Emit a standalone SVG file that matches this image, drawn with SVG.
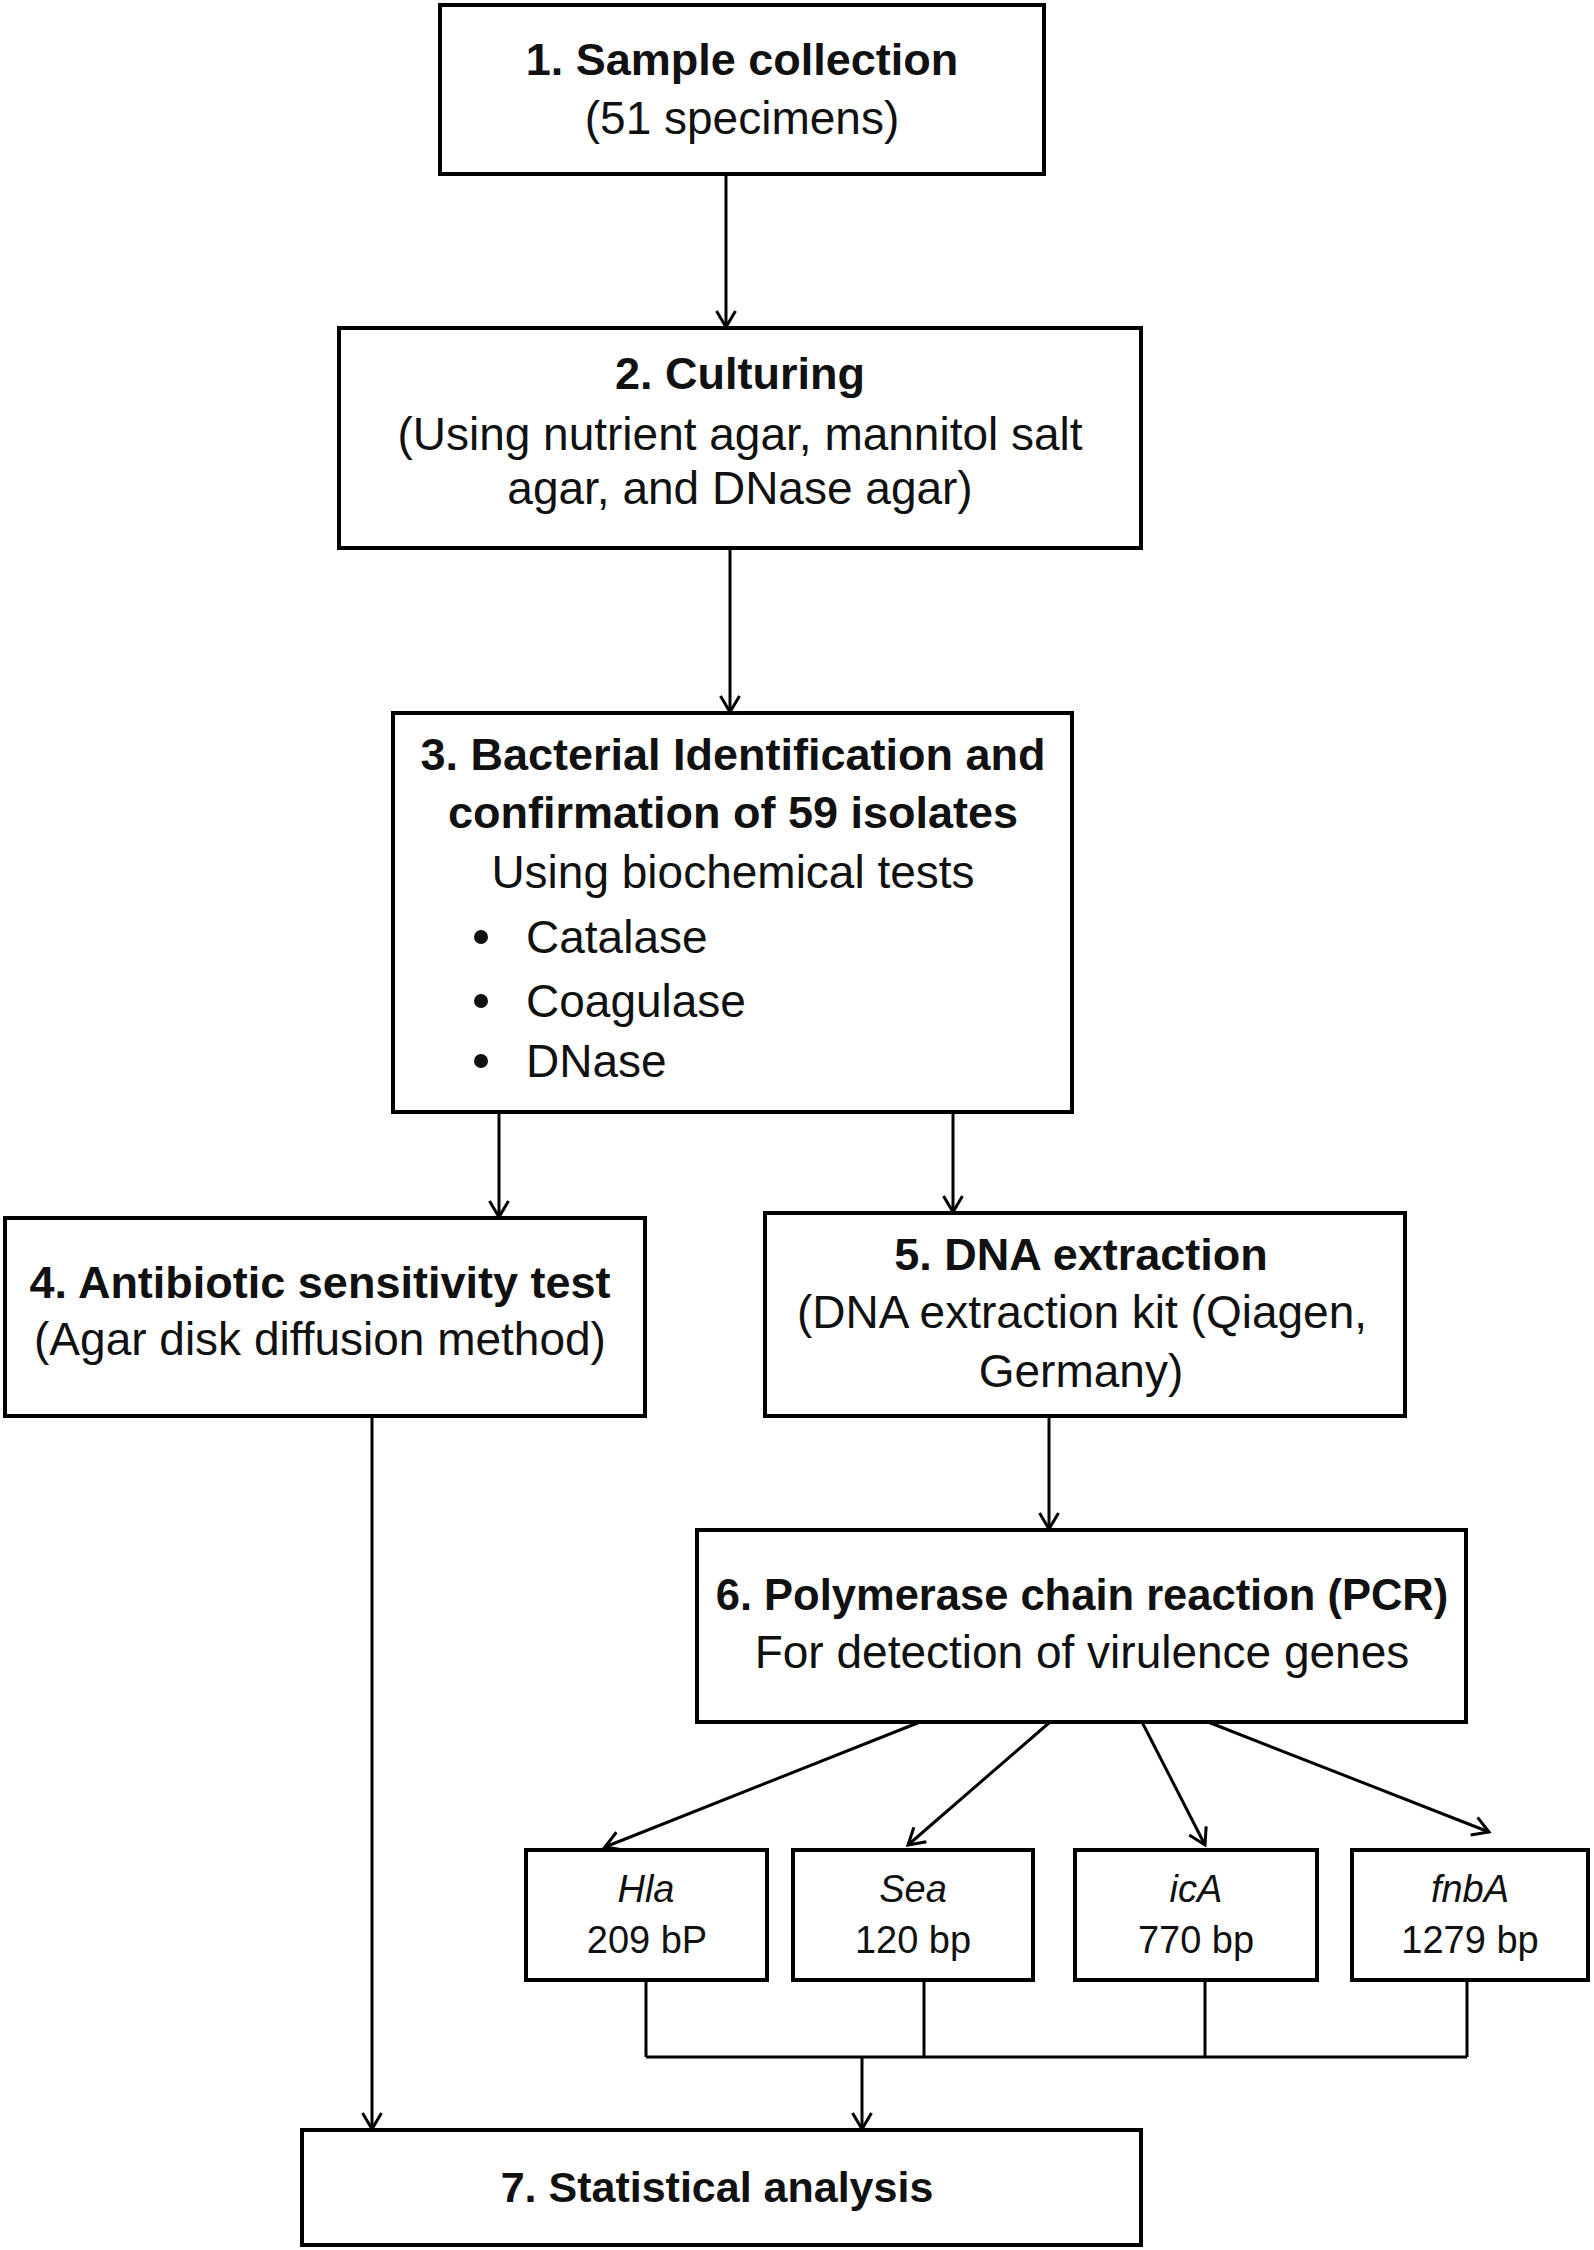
<svg xmlns="http://www.w3.org/2000/svg" width="1594" height="2250" viewBox="0 0 1594 2250">
<defs>
<style>
.box{fill:#fff;stroke:#000;stroke-width:4}
.c{fill:none;stroke:#000;stroke-width:3}
.t{font-family:"Liberation Sans",Arial,sans-serif;font-weight:bold;font-size:45px;fill:#111;text-anchor:middle}
.r{font-family:"Liberation Sans",Arial,sans-serif;font-size:46px;fill:#111;text-anchor:middle}
.l{font-family:"Liberation Sans",Arial,sans-serif;font-size:46px;fill:#111}
.g{font-family:"Liberation Sans",Arial,sans-serif;font-size:38px;fill:#111;text-anchor:middle}
.gi{font-family:"Liberation Sans",Arial,sans-serif;font-size:38px;font-style:italic;fill:#111;text-anchor:middle}
</style>
<marker id="arr" markerUnits="userSpaceOnUse" viewBox="0 0 22 22" markerWidth="22" markerHeight="22" refX="19" refY="11" orient="auto">
<path d="M3,1.5 L19,11 L3,20.5" fill="none" stroke="#000" stroke-width="3"/>
</marker>
</defs>
<rect width="1594" height="2250" fill="#fff"/>

<g id="connectors">
<path class="c" d="M726,174 V327" marker-end="url(#arr)"/>
<path class="c" d="M730,548 V712" marker-end="url(#arr)"/>
<path class="c" d="M499,1112 V1217" marker-end="url(#arr)"/>
<path class="c" d="M953,1112 V1212" marker-end="url(#arr)"/>
<path class="c" d="M1049,1416 V1529" marker-end="url(#arr)"/>
<path class="c" d="M920,1722 L605,1847" marker-end="url(#arr)"/>
<path class="c" d="M1050,1722 L908,1845" marker-end="url(#arr)"/>
<path class="c" d="M1142,1722 L1205,1845" marker-end="url(#arr)"/>
<path class="c" d="M1208,1722 L1489,1832" marker-end="url(#arr)"/>
<path class="c" d="M372,1416 V2129" marker-end="url(#arr)"/>
<path class="c" d="M646,1980 V2057 M924,1980 V2057 M1205,1980 V2057 M1467,1980 V2057 M646,2057 H1467"/>
<path class="c" d="M862,2057 V2129" marker-end="url(#arr)"/>
</g>

<g id="n1">
<rect class="box" x="440" y="5" width="604" height="169"/>
<text class="t" x="742" y="75">1. Sample collection</text>
<text class="r" x="742" y="134">(51 specimens)</text>
</g>

<g id="n2">
<rect class="box" x="339" y="328" width="802" height="220"/>
<text class="t" x="740" y="389">2. Culturing</text>
<text class="r" x="740" y="450">(Using nutrient agar, mannitol salt</text>
<text class="r" x="740" y="504">agar, and DNase agar)</text>
</g>

<g id="n3">
<rect class="box" x="393" y="713" width="679" height="399"/>
<text class="t" x="733" y="770">3. Bacterial Identification and</text>
<text class="t" x="733" y="828">confirmation of 59 isolates</text>
<text class="r" x="733" y="888">Using biochemical tests</text>
<circle cx="481" cy="937" r="7" fill="#111"/>
<circle cx="481" cy="1001" r="7" fill="#111"/>
<circle cx="481" cy="1061" r="7" fill="#111"/>
<text class="l" x="526" y="953">Catalase</text>
<text class="l" x="526" y="1017">Coagulase</text>
<text class="l" x="526" y="1077">DNase</text>
</g>

<g id="n4">
<rect class="box" x="5" y="1218" width="640" height="198"/>
<text class="t" x="320" y="1298">4. Antibiotic sensitivity test</text>
<text class="r" x="320" y="1355">(Agar disk diffusion method)</text>
</g>

<g id="n5">
<rect class="box" x="765" y="1213" width="640" height="203"/>
<text class="t" x="1081" y="1270">5. DNA extraction</text>
<text class="r" x="1082" y="1328">(DNA extraction kit (Qiagen,</text>
<text class="r" x="1081" y="1387">Germany)</text>
</g>

<g id="n6">
<rect class="box" x="697" y="1530" width="769" height="192"/>
<text class="t" x="1082" y="1610" style="font-size:43.5px">6. Polymerase chain reaction (PCR)</text>
<text class="r" x="1082" y="1668">For detection of virulence genes</text>
</g>

<g id="hla">
<rect class="box" x="526" y="1850" width="241" height="130"/>
<text class="gi" x="646" y="1902">Hla</text>
<text class="g" x="647" y="1953">209 bP</text>
</g>

<g id="sea">
<rect class="box" x="793" y="1850" width="240" height="130"/>
<text class="gi" x="913" y="1902">Sea</text>
<text class="g" x="913" y="1953">120 bp</text>
</g>

<g id="ica">
<rect class="box" x="1075" y="1850" width="242" height="130"/>
<text class="gi" x="1196" y="1902">icA</text>
<text class="g" x="1196" y="1953">770 bp</text>
</g>

<g id="fnba">
<rect class="box" x="1352" y="1850" width="236" height="130"/>
<text class="gi" x="1470" y="1902">fnbA</text>
<text class="g" x="1470" y="1953">1279 bp</text>
</g>

<g id="n7">
<rect class="box" x="302" y="2130" width="839" height="115"/>
<text class="t" x="717" y="2202" style="font-size:43px">7. Statistical analysis</text>
</g>
</svg>
